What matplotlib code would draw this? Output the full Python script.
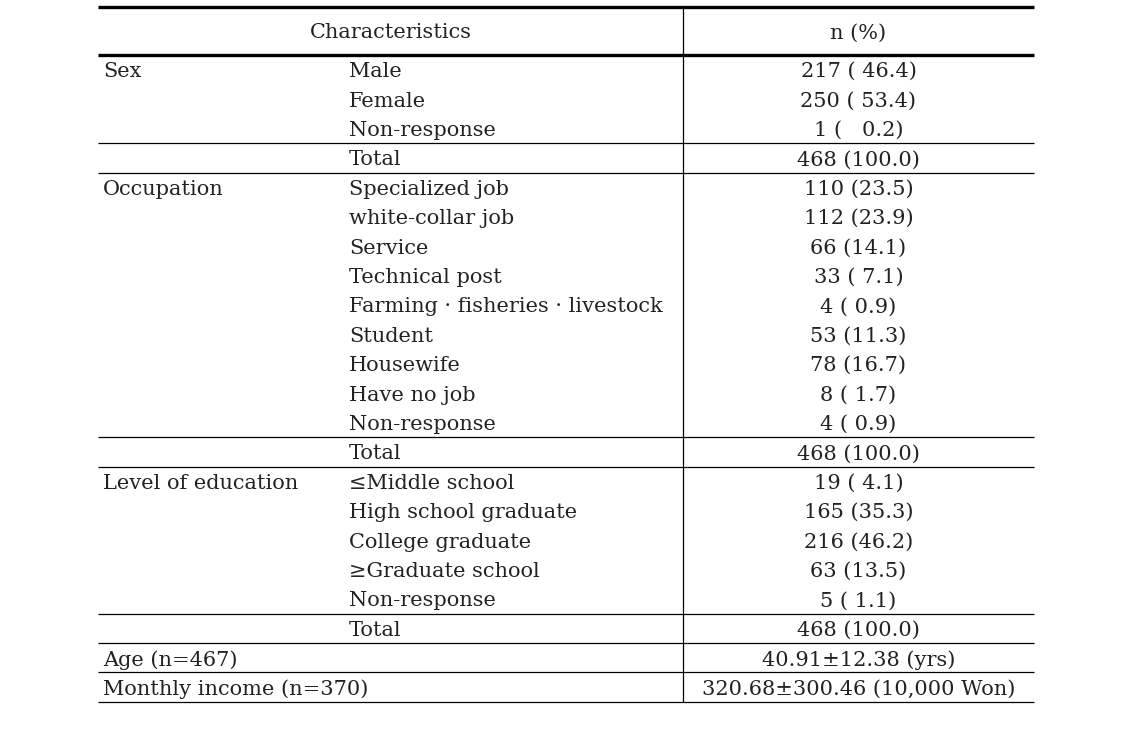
import matplotlib
matplotlib.use("Agg")
from matplotlib import pyplot as plt

# table content
header = ["Characteristics", "n (%)"]

sex_items = ["Male", "Female", "Non-response"]
sex_values = ["217 ( 46.4)", "250 ( 53.4)", "1 (   0.2)"]

occ_items = ["Specialized job", "white-collar job", "Service", "Technical post",
             "Farming \u00b7 fisheries \u00b7 livestock", "Student", "Housewife",
             "Have no job", "Non-response"]
occ_values = ["110 (23.5)", "112 (23.9)", "66 (14.1)", "33 ( 7.1)", "4 ( 0.9)",
              "53 (11.3)", "78 (16.7)", "8 ( 1.7)", "4 ( 0.9)"]

edu_items = ["\u2264Middle school", "High school graduate", "College graduate",
             "\u2265Graduate school", "Non-response"]
edu_values = ["19 ( 4.1)", "165 (35.3)", "216 (46.2)", "63 (13.5)", "5 ( 1.1)"]

total_value = "468 (100.0)"

single_rows = ["Age (n=467)", "Monthly income (n=370)"]
single_values = ["40.91\u00b112.38 (yrs)", "320.68\u00b1300.46 (10,000 Won)"]

groups = [("Sex", sex_items, sex_values),
          ("Occupation", occ_items, occ_values),
          ("Level of education", edu_items, edu_values)]

# layout in pixels
W, H = 1128, 741
left, mid, right = 98, 683, 1034
top, head_bot = 7, 55
row_h = 29.4
col1_x, col2_x = 103, 349
val_x = (mid + right) / 2
dy = 2.0

plt.rcParams['font.family'] = ['DejaVu Serif']
fs = 15
tc = '#222222'


def put(x, y, s, ha='left'):
    ax.text(x, y + dy, s, ha=ha, va='center', fontsize=fs, color=tc)


fig = plt.figure(figsize=(W / 100, H / 100), dpi=100)
ax = fig.add_axes([0, 0, 1, 1])
ax.set_xlim(0, W)
ax.set_ylim(H, 0)
ax.axis('off')

ax.hlines([top, head_bot], left, right, color='black', lw=2.4)
put((left + mid) / 2, (top + head_bot) / 2, header[0], ha='center')
put(val_x, (top + head_bot) / 2, header[1], ha='center')

y = head_bot
for name, items, values in groups:
    for i, (item, val) in enumerate(zip(items, values)):
        cy = y + row_h / 2
        if i == 0:
            put(col1_x, cy, name)
        put(col2_x, cy, item)
        put(val_x, cy, val, ha='center')
        y += row_h
    ax.hlines(y, left, right, color='black', lw=0.9)
    cy = y + row_h / 2
    put(col2_x, cy, "Total")
    put(val_x, cy, total_value, ha='center')
    y += row_h
    ax.hlines(y, left, right, color='black', lw=0.9)

for label, val in zip(single_rows, single_values):
    cy = y + row_h / 2
    put(col1_x, cy, label)
    put(val_x, cy, val, ha='center')
    y += row_h
    ax.hlines(y, left, right, color='black', lw=0.9)

ax.vlines(mid, top, y, color='black', lw=0.9)

fig.savefig("out.png", dpi=100)
